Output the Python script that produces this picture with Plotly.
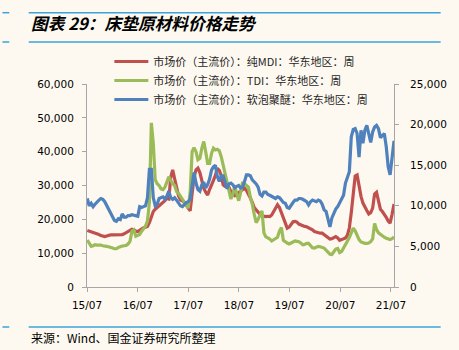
import pandas as pd
import plotly.graph_objects as go

# ---- data (biweekly) ----
dates = pd.date_range(start="2015-07-03", periods=159, freq="14D")

mdi = [16700, 16500, 16300, 16200, 16100, 15800, 15500, 15200, 15000, 14900,
       15100, 15300, 15400, 15400, 15400, 15400, 15400, 15400, 15500, 15700,
       16000, 16400, 16800, 17100, 16900, 16500, 16400, 16800, 17200, 17500,
       17700, 17900, 19000, 21000, 22300, 23000, 23500, 23800, 24300, 25000,
       25500, 26200, 26000, 32500, 34600, 32000, 29000, 27000, 25700, 25500,
       25000, 24000, 23300, 22500, 27500, 32500, 34600, 35100, 33800, 31500,
       29200, 28000, 27200, 28800, 30500, 31500, 33000, 35100, 34500, 33000,
       30200, 29700, 29700, 29500, 28200, 27500, 27000, 27500, 28000, 28300,
       28800, 29200, 28500, 27500, 26300, 25000, 23500, 22800, 22000, 21500,
       21000, 20800, 20800, 20900, 20800, 21300, 22200, 23500, 24300, 23500,
       22000, 20200, 18500, 17400, 17700, 18400, 19300, 19400, 19200, 18600,
       18300, 18100, 17900, 17800, 17500, 17300, 16900, 16400, 16200, 16000,
       15900, 15900, 15500, 15100, 14800, 14200, 14300, 14700, 14900, 14500,
       13800, 14000, 14300, 14500, 15300, 17500, 22000, 28000, 32800, 33100,
       29500, 26800, 24800, 23500, 22600, 21600, 22000, 23300, 27500, 28000,
       25500, 23000, 22300, 21600, 20600, 19500, 18900, 21500, 24500]

tdi = [13900, 13000, 12000, 12200, 12500, 12400, 12500, 12400, 12200, 12000,
       12000, 11900, 11800, 11500, 11300, 11300, 11700, 12000, 12100, 12200,
       12300, 12700, 13500, 16500, 16900, 15000, 15200, 15500, 16500, 17200,
       18000, 19500, 25000, 48500, 42500, 31700, 30500, 30000, 29000, 28800,
       29500, 31000, 32600, 31500, 30500, 30000, 28200, 27700, 26800, 26000,
       25200, 24500, 23300, 28000, 40000, 41200, 40000, 37600, 38000, 41000,
       43000, 40000, 36500, 36500, 39500, 41000, 40500, 40700, 40300, 38500,
       35500, 33500, 31000, 28500, 26000, 27500, 30000, 27500, 25500, 28000,
       31000, 30500, 30000, 29500, 26500, 24500, 21500, 19000, 20000, 21500,
       22500, 16000, 14800, 14500, 14200, 13600, 13900, 14300, 14700, 16500,
       17600, 13800, 13300, 13000, 12700, 13000, 13400, 13600, 13500, 13400,
       13000, 12500, 12600, 12900, 12900, 12300, 11600, 11500, 11800, 12000,
       11900, 11800, 11500, 10900, 10400, 9700, 9600, 10400, 11200, 11400,
       10200, 10500, 11500, 12600, 13700, 14600, 16000, 17400, 16600, 15200,
       14000, 13300, 13000, 12900, 12900, 13000, 13400, 14200, 18800, 17000,
       16000, 15500, 15100, 14700, 14400, 14200, 14000, 14300, 14800]

polyether = [10900, 10000, 10300, 9900, 10200, 10500, 10700, 10900, 10800, 10500,
             10000, 9500, 9100, 8600, 8200, 8100, 8400, 8300, 9000, 8600,
             8600, 8800, 8800, 8900, 8800, 8700, 8700, 9900, 9800, 9900,
             10000, 11000, 14500, 14500, 11000, 10000, 10200, 10900, 11000, 11100,
             10800, 11200, 11800, 11000, 10800, 11000, 10700, 10300, 10000, 9900,
             10200, 10400, 10500, 10800, 12500, 14100, 12800, 12000, 11800, 12600,
             12900, 12200, 12600, 13300, 14400, 14800, 15000, 13600, 13000, 13700,
             13700, 13000, 12100, 12700, 12800, 12600, 12200, 12400, 12500, 12200,
             12300, 13000, 13800, 13800, 13700, 13200, 13000, 12700, 12300, 11400,
             11200, 11700, 11700, 11400, 11300, 11200, 11000, 10900, 11100, 11000,
             10700, 10400, 10300, 9800, 9700, 10100, 10400, 10700, 10700, 10900,
             10900, 10800, 10600, 10500, 10100, 10500, 10700, 10600, 10500, 10700,
             10600, 10200, 9500, 9300, 8200, 7400, 8500, 9100, 9600, 9900,
             10400, 10900, 11300, 12800, 13600, 14200, 18500, 19400, 19500, 18900,
             16000, 19300, 17700, 19300, 19900, 19000, 17800, 19100, 19700, 19900,
             19500, 18400, 18600, 18900, 17300, 14800, 13800, 15800, 18000]

names = ["市场价（主流价）：纯MDI：华东地区：周",
         "市场价（主流价）：TDI：华东地区：周",
         "市场价（主流价）：软泡聚醚：华东地区：周"]
colors = ["#C0504D", "#9BBB59", "#4F81BD"]

title_text = "图表 29：床垫原材料价格走势"
source_text = "来源：Wind、国金证券研究所整理"

BG = "#FDF9F0"
CJK = "Noto Sans CJK SC"
NUM = "DejaVu Sans"

fig = go.Figure()
fig.add_trace(go.Scatter(x=dates, y=mdi, name=names[0], mode="lines",
                         line=dict(color=colors[0], width=3.2), yaxis="y"))
fig.add_trace(go.Scatter(x=dates, y=tdi, name=names[1], mode="lines",
                         line=dict(color=colors[1], width=3.2), yaxis="y"))
fig.add_trace(go.Scatter(x=dates, y=polyether, name=names[2], mode="lines",
                         line=dict(color=colors[2], width=3.2), yaxis="y2"))

L, R, T, B = 87, 56, 84, 63
W, H = 459, 350
pw, ph = W - L - R, H - T - B

def px(xp):
    return (xp - L) / pw

def py(yp):
    return (H - B - yp) / ph

axis_col = "#A6A6A6"
tickfont = dict(family=NUM, size=10.5, color="#000000")

fig.update_layout(
    width=W, height=H,
    margin=dict(l=L, r=R, t=T, b=B),
    paper_bgcolor=BG, plot_bgcolor=BG,
    showlegend=True,
    legend=dict(x=px(110), y=py(47), xanchor="left", yanchor="top",
                bgcolor="rgba(0,0,0,0)", font=dict(family=CJK, size=11, color="#262626"),
                tracegroupgap=0, itemwidth=34),
    xaxis=dict(type="date", range=["2015-07-01", "2021-07-23"],
               tick0="2015-07-01", dtick="M12", tickformat="%y/%m",
               showgrid=False, zeroline=False, showline=True, linecolor=axis_col,
               linewidth=1, ticks="outside", ticklen=4, tickcolor=axis_col,
               tickfont=tickfont, ticklabelstandoff=4),
    yaxis=dict(range=[0, 60000], dtick=10000, tickformat=",d",
               showgrid=False, zeroline=False, showline=True, linecolor=axis_col,
               linewidth=1, ticks="outside", ticklen=4, tickcolor=axis_col,
               tickfont=tickfont, ticklabelstandoff=6),
    yaxis2=dict(range=[0, 25000], dtick=5000, tickformat=",d", overlaying="y",
                side="right", anchor="x",
                showgrid=False, zeroline=False, showline=True, linecolor=axis_col,
                linewidth=1, ticks="outside", ticklen=4, tickcolor=axis_col,
                tickfont=tickfont, ticklabelstandoff=9),
)

line_col = "#3AA3D9"
for yy in (12.7, 42.0, 327.0):
    fig.add_shape(type="line", xref="paper", yref="paper",
                  x0=px(27), x1=px(451), y0=py(yy), y1=py(yy),
                  line=dict(color=line_col, width=1.5))
    fig.add_shape(type="line", xref="paper", yref="paper",
                  x0=px(0), x1=px(7), y0=py(yy), y1=py(yy),
                  line=dict(color=line_col, width=1.5))

fig.add_annotation(text="<b><i>" + title_text + "</i></b>", xref="paper", yref="paper",
                   x=px(27), y=py(23), xanchor="left", yanchor="middle",
                   showarrow=False, font=dict(family=CJK, size=16.7, color="#000000"))
fig.add_annotation(text=source_text, xref="paper", yref="paper",
                   x=px(27), y=py(337.5), xanchor="left", yanchor="middle",
                   showarrow=False, font=dict(family=CJK, size=12, color="#000000"))

fig.write_html("out.html")
